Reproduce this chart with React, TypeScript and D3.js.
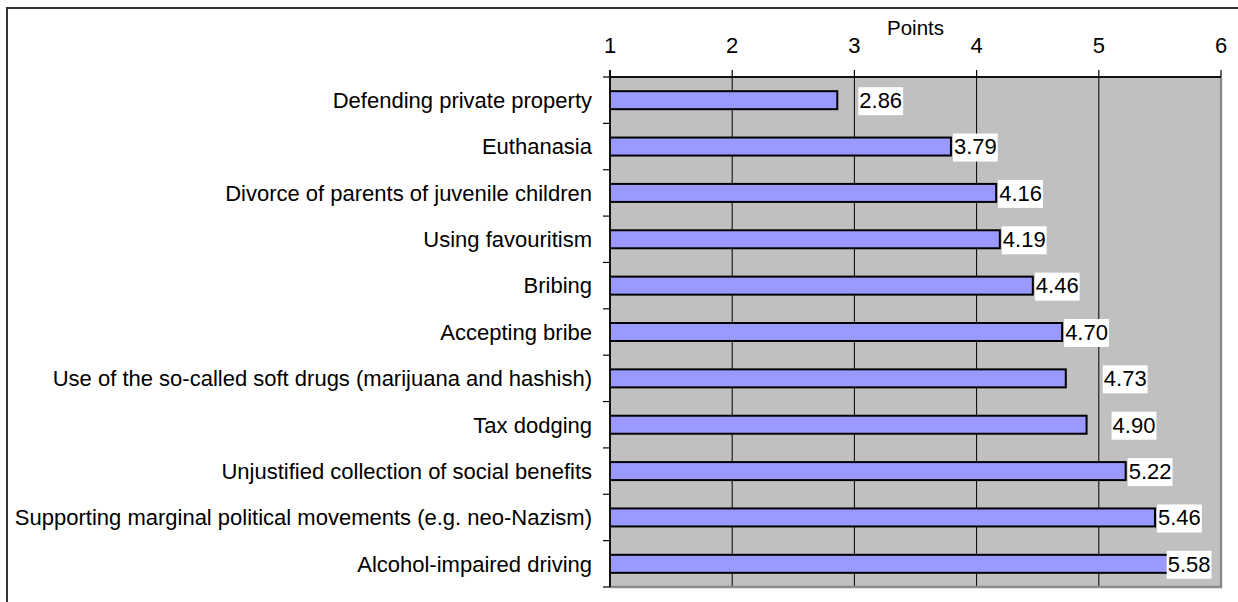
import React, { useEffect, useRef } from "react";
import * as d3 from "d3";

// Survey items, top to bottom, with their mean acceptability score (points)
const categories: string[] = [
  "Defending private property",
  "Euthanasia",
  "Divorce of parents of juvenile children",
  "Using favouritism",
  "Bribing",
  "Accepting bribe",
  "Use of the so-called soft drugs (marijuana and hashish)",
  "Tax dodging",
  "Unjustified collection of social benefits",
  "Supporting marginal political movements (e.g. neo-Nazism)",
  "Alcohol-impaired driving",
];

const values: number[] = [2.86, 3.79, 4.16, 4.19, 4.46, 4.7, 4.73, 4.9, 5.22, 5.46, 5.58];

const tickValues: number[] = [1, 2, 3, 4, 5, 6];
const axisTitle = "Points";

const W = 1238;
const H = 602;
const plot = { left: 610, right: 1221, top: 77, bottom: 587 };
const FONT = "'Liberation Sans', Arial, Helvetica, sans-serif";

// Horizontal gap between a bar's end and its value label box (some labels were dragged further out)
const labelGap = (i: number): number => {
  const moved: Record<number, number> = { 0: 21, 6: 37, 7: 25, 10: -3 };
  return moved[i] ?? 2;
};

export default function App() {
  const ref = useRef<SVGSVGElement | null>(null);

  useEffect(() => {
    const svg = d3.select(ref.current);
    svg.selectAll("*").remove();

    const x = d3.scaleLinear().domain([1, 6]).range([plot.left, plot.right]);
    const y = d3
      .scaleBand<string>()
      .domain(categories)
      .range([plot.top, plot.bottom])
      .paddingInner(0)
      .paddingOuter(0);
    const band = y.bandwidth();
    const barH = 18;

    // outer chart frame
    svg
      .append("rect")
      .attr("x", 7)
      .attr("y", 8)
      .attr("width", W + 20)
      .attr("height", H + 20)
      .attr("fill", "#fff")
      .attr("stroke", "#333")
      .attr("stroke-width", 2);

    // plot area
    svg
      .append("rect")
      .attr("x", plot.left)
      .attr("y", plot.top)
      .attr("width", plot.right - plot.left)
      .attr("height", plot.bottom - plot.top)
      .attr("fill", "#C0C0C0");

    // vertical gridlines
    svg
      .append("g")
      .selectAll("line")
      .data(tickValues.slice(1, -1))
      .join("line")
      .attr("x1", (d) => x(d))
      .attr("x2", (d) => x(d))
      .attr("y1", plot.top)
      .attr("y2", plot.bottom)
      .attr("stroke", "#000")
      .attr("stroke-width", 1);

    // plot border: grey right and bottom
    svg
      .append("path")
      .attr("d", `M${plot.right},${plot.top} V${plot.bottom} H${plot.left}`)
      .attr("fill", "none")
      .attr("stroke", "#8a8a8a")
      .attr("stroke-width", 2.5);

    // bars
    svg
      .append("g")
      .selectAll("rect")
      .data(values)
      .join("rect")
      .attr("x", x(1))
      .attr("y", (_d, i) => (y(categories[i]) as number) + band / 2 - barH / 2)
      .attr("width", (d) => x(d) - x(1))
      .attr("height", barH)
      .attr("fill", "#9999FF")
      .attr("stroke", "#000")
      .attr("stroke-width", 2);

    // top value axis
    const top = svg.append("g");
    top
      .append("line")
      .attr("x1", plot.left)
      .attr("x2", plot.right)
      .attr("y1", plot.top)
      .attr("y2", plot.top)
      .attr("stroke", "#111")
      .attr("stroke-width", 2);
    top
      .selectAll("line.tick")
      .data(tickValues)
      .join("line")
      .attr("class", "tick")
      .attr("x1", (d) => x(d))
      .attr("x2", (d) => x(d))
      .attr("y1", plot.top - 7)
      .attr("y2", plot.top)
      .attr("stroke", "#000")
      .attr("stroke-width", 1.2);
    top
      .selectAll("text")
      .data(tickValues)
      .join("text")
      .attr("x", (d) => x(d))
      .attr("y", 53)
      .attr("text-anchor", "middle")
      .attr("font-family", FONT)
      .attr("font-size", 22)
      .attr("fill", "#000")
      .text((d) => d3.format("d")(d));
    svg
      .append("text")
      .attr("x", (plot.left + plot.right) / 2)
      .attr("y", 35)
      .attr("text-anchor", "middle")
      .attr("font-family", FONT)
      .attr("font-size", 20.5)
      .attr("fill", "#000")
      .text(axisTitle);

    // left category axis
    const left = svg.append("g");
    left
      .append("line")
      .attr("x1", plot.left)
      .attr("x2", plot.left)
      .attr("y1", plot.top - 7)
      .attr("y2", plot.bottom)
      .attr("stroke", "#111")
      .attr("stroke-width", 2);
    const bounds = categories.map((c) => y(c) as number).concat([plot.bottom]);
    left
      .selectAll("line.tick")
      .data(bounds)
      .join("line")
      .attr("class", "tick")
      .attr("x1", plot.left - 7)
      .attr("x2", plot.left)
      .attr("y1", (d) => d)
      .attr("y2", (d) => d)
      .attr("stroke", "#000")
      .attr("stroke-width", 1.2);
    left
      .selectAll("text")
      .data(categories)
      .join("text")
      .attr("x", 592)
      .attr("y", (d) => (y(d) as number) + band / 2 + 7.8)
      .attr("text-anchor", "end")
      .attr("font-family", FONT)
      .attr("font-size", 22)
      .attr("fill", "#000")
      .text((d) => d);

    // value labels on white boxes
    const labels = svg.append("g");
    values.forEach((v, i) => {
      const cy = (y(categories[i]) as number) + band / 2;
      const tx = x(v) + labelGap(i) + 1;
      const g = labels.append("g");
      const box = g.append("rect").attr("fill", "#fff");
      const t = g
        .append("text")
        .attr("x", tx)
        .attr("y", cy + 7.8)
        .attr("font-family", FONT)
        .attr("font-size", 22)
        .attr("fill", "#000")
        .text(d3.format(".2f")(v));
      const w = (t.node() as SVGTextElement).getComputedTextLength();
      box
        .attr("x", tx - 1)
        .attr("y", cy - 13)
        .attr("width", w + 2)
        .attr("height", 28);
    });
  }, []);

  return (
    <svg
      ref={ref}
      width={W}
      height={H}
      style={{ position: "absolute", left: 0, top: 0, background: "#fff" }}
    />
  );
}
